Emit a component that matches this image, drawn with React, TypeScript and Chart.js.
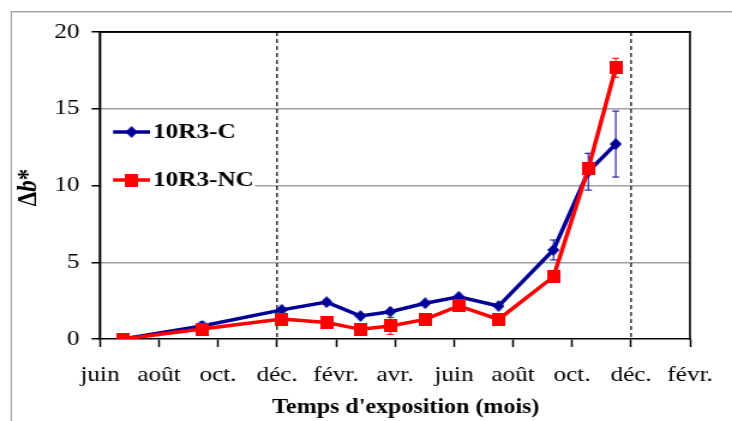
import React, { useEffect, useRef } from 'react';
import { Chart, registerables } from 'chart.js';

Chart.register(...registerables);

// ---- data ----
const xTickLabels = ['juin', 'août', 'oct.', 'déc.', 'févr.', 'avr.', 'juin', 'août', 'oct.', 'déc.', 'févr.'];
const monthsPerTick = 2;
const months = [0.77, 3.46, 6.16, 7.68, 8.83, 9.84, 11.02, 12.16, 13.51, 15.37, 16.55, 17.48];
const seriesC = [0, 0.85, 1.9, 2.4, 1.5, 1.78, 2.33, 2.75, 2.15, 5.8, 10.9, 12.7];
const seriesNC = [0, 0.65, 1.3, 1.07, 0.63, 0.85, 1.28, 2.15, 1.28, 4.06, 11.1, 17.67];
const errC = [0, 0.25, 0.1, 0.15, 0.1, 0.1, 0.1, 0.1, 0.1, 0.65, 1.2, 2.15];
const errNC = [0, 0.1, 0.15, 0.35, 0.3, 0.55, 0.15, 0.1, 0.1, 0.2, 0.3, 0.62];
const dashedMonths = [6, 18];
const yTicks = [0, 5, 10, 15, 20];
const labelC = '10R3-C';
const labelNC = '10R3-NC';
const xTitle = "Temps d'exposition (mois)";

// ---- style ----
const STRETCH = 1.2;
const W = 610;
const H = 421;
const BLUE = '#000096';
const RED = '#FF0000';
const SERIF = '"Liberation Serif", "Times New Roman", serif';

function makeMarker(kind: string, color: string, w: number, h: number) {
  const c = document.createElement('canvas');
  c.width = w;
  c.height = h;
  const g = c.getContext('2d')!;
  g.fillStyle = color;
  if (kind === 'square') {
    g.fillRect(0, 0, w, h);
  } else {
    g.beginPath();
    g.moveTo(w / 2, 0);
    g.lineTo(w, h / 2);
    g.lineTo(w / 2, h);
    g.lineTo(0, h / 2);
    g.closePath();
    g.fill();
  }
  return c;
}

export default function App() {
  const ref = useRef<HTMLCanvasElement | null>(null);

  useEffect(() => {
    const canvas = ref.current;
    if (!canvas) return;
    const diamond = makeMarker('diamond', BLUE, 10, 12);
    const square = makeMarker('square', RED, 11, 13);

    const decor = {
      id: 'decor',
      beforeDraw(chart: any) {
        const { ctx } = chart;
        ctx.save();
        ctx.fillStyle = '#fff';
        ctx.fillRect(0, 0, chart.width, chart.height);
        ctx.fillStyle = '#a0a0a0';
        ctx.fillRect(8.8, 11, 1.2, chart.height);
        ctx.fillRect(8.8, 11, chart.width, 1.4);
        ctx.restore();
      },
      beforeDatasetsDraw(chart: any) {
        const { ctx, chartArea: a, scales } = chart;
        const x = scales.x;
        const y = scales.y;
        ctx.save();
        ctx.strokeStyle = '#000';
        ctx.lineWidth = 1.2;
        ctx.setLineDash([4, 3]);
        dashedMonths.forEach((m) => {
          const px = x.getPixelForValue(m);
          ctx.beginPath();
          ctx.moveTo(px, a.top);
          ctx.lineTo(px, a.bottom);
          ctx.stroke();
        });
        ctx.setLineDash([]);
        const sets = [
          { v: seriesC, e: errC, color: BLUE },
          { v: seriesNC, e: errNC, color: RED },
        ];
        sets.forEach((s) => {
          ctx.strokeStyle = s.color;
          ctx.lineWidth = 1;
          s.v.forEach((val, i) => {
            const err = s.e[i];
            if (!err) return;
            const px = x.getPixelForValue(months[i]);
            const top = y.getPixelForValue(val + err);
            const bot = y.getPixelForValue(val - err);
            ctx.beginPath();
            ctx.moveTo(px, top);
            ctx.lineTo(px, bot);
            ctx.moveTo(px - 3, top);
            ctx.lineTo(px + 3, top);
            ctx.moveTo(px - 3, bot);
            ctx.lineTo(px + 3, bot);
            ctx.stroke();
          });
        });
        ctx.restore();
      },
      afterDraw(chart: any) {
        const { ctx, chartArea: a } = chart;
        ctx.save();
        ctx.setLineDash([]);
        // legend
        ctx.fillStyle = '#fff';
        ctx.fillRect(a.left + 1.2, 112, 212.5 - a.left - 1.2, 88);
        const items = [
          { label: labelC, color: BLUE, img: diamond, y: 132 },
          { label: labelNC, color: RED, img: square, y: 180 },
        ];
        items.forEach((it) => {
          ctx.strokeStyle = it.color;
          ctx.lineWidth = 3.5;
          ctx.beginPath();
          ctx.moveTo(94.2, it.y);
          ctx.lineTo(125, it.y);
          ctx.stroke();
          ctx.drawImage(it.img, 109.6 - it.img.width / 2, it.y - it.img.height / 2);
          ctx.fillStyle = '#000';
          ctx.font = `bold 21px ${SERIF}`;
          ctx.textBaseline = 'middle';
          ctx.textAlign = 'left';
          ctx.fillText(it.label, 127.5, it.y + 1);
        });
        // plot frame: left, top, right
        ctx.fillStyle = '#000';
        ctx.fillRect(a.left - 1, a.top - 0.8, 2, a.bottom - a.top + 1.6);
        ctx.fillRect(a.left - 1, a.top - 0.8, a.right - a.left + 1.8, 1.6);
        ctx.fillRect(a.right - 0.9, a.top - 0.8, 1.6, a.bottom - a.top + 1.6);
        // x title
        ctx.font = `bold 20px ${SERIF}`;
        ctx.textAlign = 'center';
        ctx.textBaseline = 'alphabetic';
        ctx.fillText(xTitle, (a.left + a.right) / 2 + 9, 413);
        // y title: Δb*
        ctx.translate(30, (a.top + a.bottom) / 2 + 2);
        ctx.rotate(-Math.PI / 2);
        const parts = [
          { t: 'Δ', f: `bold 23px ${SERIF}` },
          { t: 'b', f: `italic bold 23px ${SERIF}` },
          { t: '*', f: `bold 23px ${SERIF}` },
        ];
        let total = 0;
        parts.forEach((p) => {
          ctx.font = p.f;
          total += ctx.measureText(p.t).width;
        });
        let cx = -total / 2;
        ctx.textAlign = 'left';
        parts.forEach((p) => {
          ctx.font = p.f;
          ctx.fillText(p.t, cx, 0);
          cx += ctx.measureText(p.t).width;
        });
        ctx.restore();
      },
    };

    const chart = new Chart(canvas, {
      type: 'line',
      data: {
        datasets: [
          {
            label: labelC,
            data: months.map((m, i) => ({ x: m, y: seriesC[i] })),
            borderColor: BLUE,
            backgroundColor: BLUE,
            borderWidth: 3.5,
            pointStyle: diamond as any,
            pointRadius: 6,
            order: 2,
          },
          {
            label: labelNC,
            data: months.map((m, i) => ({ x: m, y: seriesNC[i] })),
            borderColor: RED,
            backgroundColor: RED,
            borderWidth: 3.5,
            pointStyle: square as any,
            pointRadius: 6,
            order: 1,
          },
        ],
      },
      options: {
        responsive: false,
        animation: false,
        devicePixelRatio: 1,
        layout: { padding: { top: 32, right: 25, left: 0, bottom: 0 } },
        plugins: {
          legend: { display: false },
          tooltip: { enabled: false },
        },
        scales: {
          x: {
            type: 'linear',
            min: 0,
            max: (xTickLabels.length - 1) * monthsPerTick,
            afterBuildTicks: (s: any) => {
              s.ticks = xTickLabels.map((_, i) => ({ value: i * monthsPerTick }));
            },
            ticks: {
              callback: (v: any) => xTickLabels[Math.round(Number(v) / monthsPerTick)],
              font: { family: SERIF, size: 21 },
              color: '#000',
              padding: 16,
              maxRotation: 0,
              autoSkip: false,
            },
            grid: {
              drawOnChartArea: false,
              drawTicks: true,
              tickLength: 8,
              tickColor: '#000',
              tickWidth: 1.5,
            },
            border: { color: '#000', width: 1.6 },
            afterFit: (s: any) => {
              s.height = 82;
            },
          },
          y: {
            min: yTicks[0],
            max: yTicks[yTicks.length - 1],
            afterBuildTicks: (s: any) => {
              s.ticks = yTicks.map((v) => ({ value: v }));
            },
            ticks: {
              font: { family: SERIF, size: 21 },
              color: '#000',
              padding: 10,
            },
            grid: {
              color: (c: any) =>
                c.tick && c.tick.value === yTicks[0]
                  ? 'rgba(0,0,0,0)'
                  : c.tick && c.tick.value === yTicks[yTicks.length - 1]
                  ? '#000'
                  : '#a0a0a0',
              lineWidth: 1.5,
              tickLength: 7,
              tickColor: '#000',
              tickWidth: 1.5,
            },
            border: { display: false },
            afterFit: (s: any) => {
              s.width = 83.3;
            },
          },
        },
      },
      plugins: [decor],
    } as any);

    return () => chart.destroy();
  }, []);

  return (
    <div
      style={{
        position: 'absolute',
        left: 0,
        top: 0,
        width: 732,
        height: 421,
        overflow: 'hidden',
        background: '#fff',
      }}
    >
      <div
        style={{
          position: 'absolute',
          left: 0,
          top: 0,
          width: W,
          height: H,
          transform: `scaleX(${STRETCH})`,
          transformOrigin: '0 0',
        }}
      >
        <canvas ref={ref} width={W} height={H} style={{ width: W, height: H, display: 'block' }} />
      </div>
    </div>
  );
}
